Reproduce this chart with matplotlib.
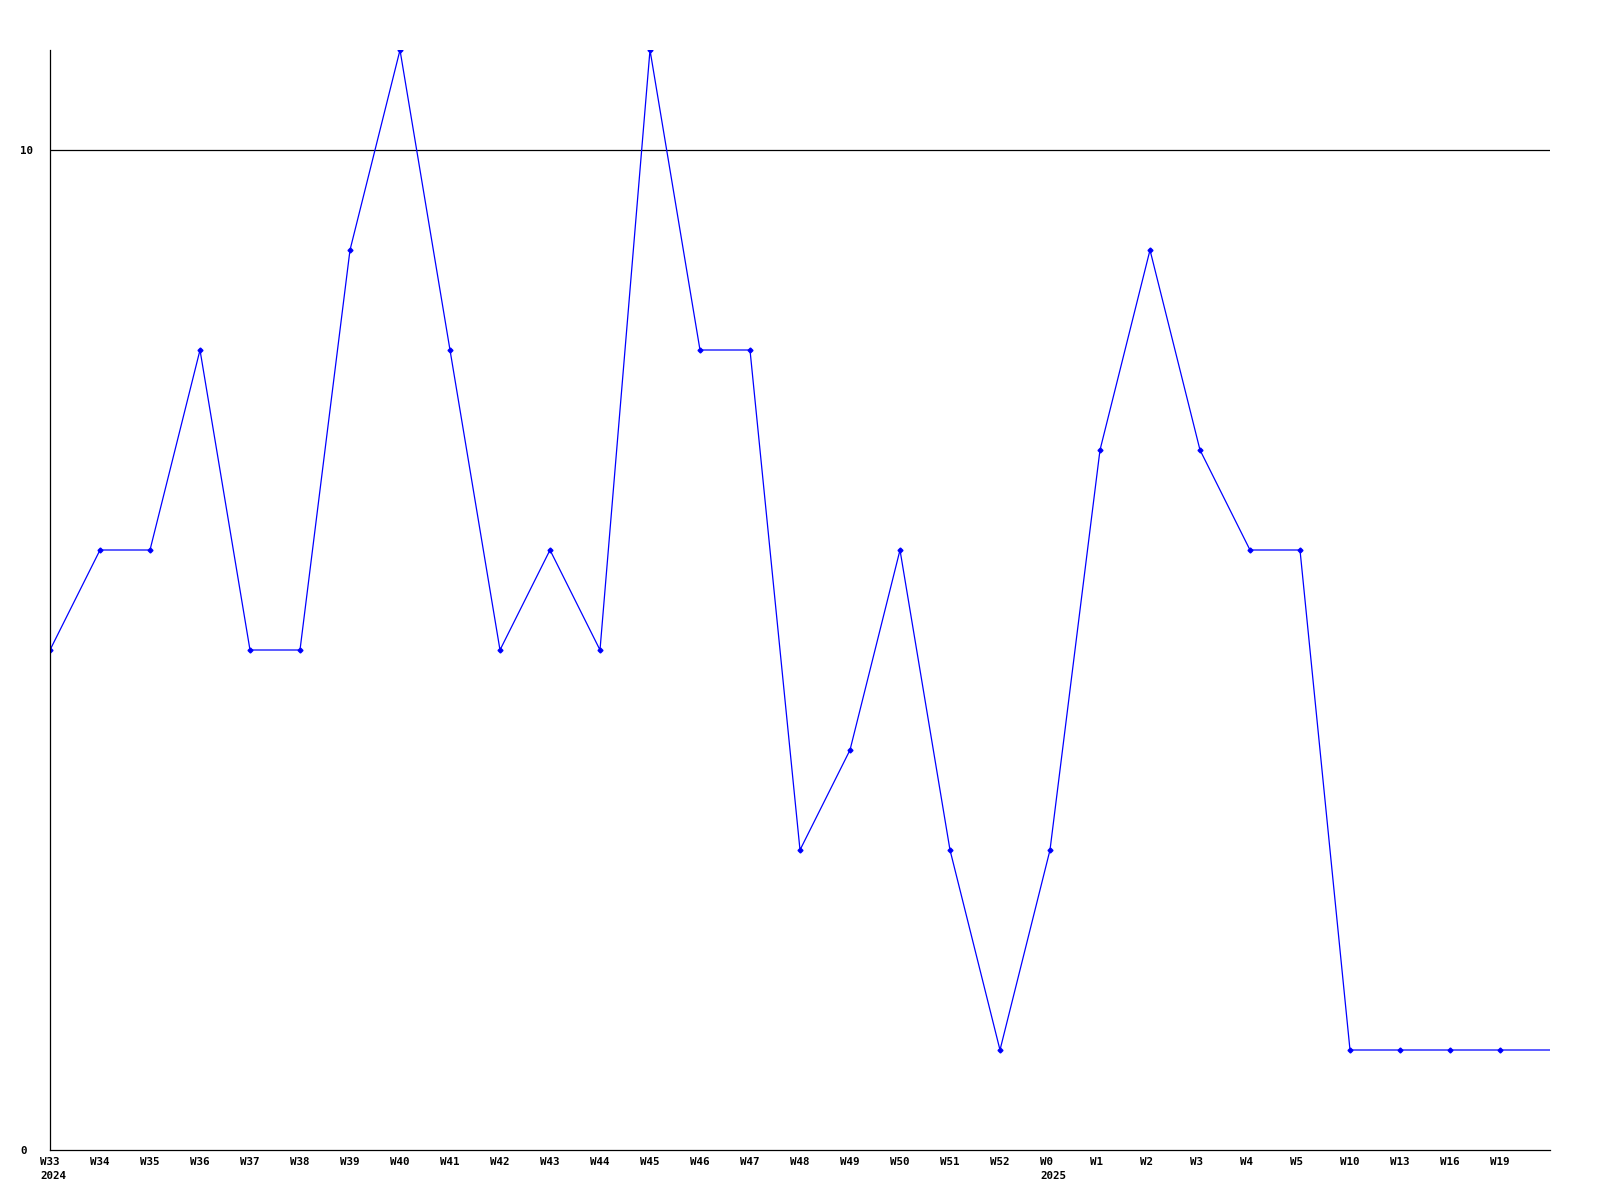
import matplotlib
matplotlib.use("Agg")
import matplotlib.pyplot as plt

weeks = ["W33", "W34", "W35", "W36", "W37", "W38", "W39", "W40", "W41", "W42",
         "W43", "W44", "W45", "W46", "W47", "W48", "W49", "W50", "W51", "W52",
         "W0", "W1", "W2", "W3", "W4", "W5", "W10", "W13", "W16", "W19"]
years = {"W33": "2024", "W0": "2025"}
counts = [5, 6, 6, 8, 5, 5, 9, 11, 8, 5,
          6, 5, 11, 8, 8, 3, 4, 6, 3, 1,
          3, 7, 9, 7, 6, 6, 1, 1, 1, 1]
# the line runs on past the last labelled week to the right edge
trailing = [1]

fig = plt.figure(figsize=(16, 12), dpi=100)
ax = fig.add_axes([50 / 1600, 50 / 1200, 1500 / 1600, 1100 / 1200])

vals = counts + trailing
xs = list(range(len(vals)))
ax.plot(xs, vals, color="#0000ff", linewidth=0.9, marker="D", markersize=2.5,
        markevery=list(range(len(counts))))

ax.set_xlim(0, len(weeks))
ax.set_ylim(0, 11)

ax.axhline(10, color="black", linewidth=0.9, zorder=0)

font = dict(family="DejaVu Sans Mono", fontweight="bold", fontsize=7.8)

# week labels sit left-aligned a little before each point, year underneath
ax.set_xticks(range(len(weeks)))
ax.set_xticklabels([])
for i, w in enumerate(weeks):
    txt = w + ("\n" + years[w] if w in years else "")
    ax.annotate(txt, xy=(i, 0), xycoords=("data", "axes fraction"),
                xytext=(-10, -7), textcoords="offset pixels",
                ha="left", va="top", linespacing=1.45, annotation_clip=False, **font)

ax.set_yticks([0, 10])
ax.set_yticklabels(["0", "10"], ha="left", **font)
ax.tick_params(length=0)
ax.tick_params(axis="y", pad=30 * 72 / 100)

for s in ["top", "right"]:
    ax.spines[s].set_visible(False)
for s in ["left", "bottom"]:
    ax.spines[s].set_linewidth(0.9)

fig.savefig("out.png", dpi=100)
